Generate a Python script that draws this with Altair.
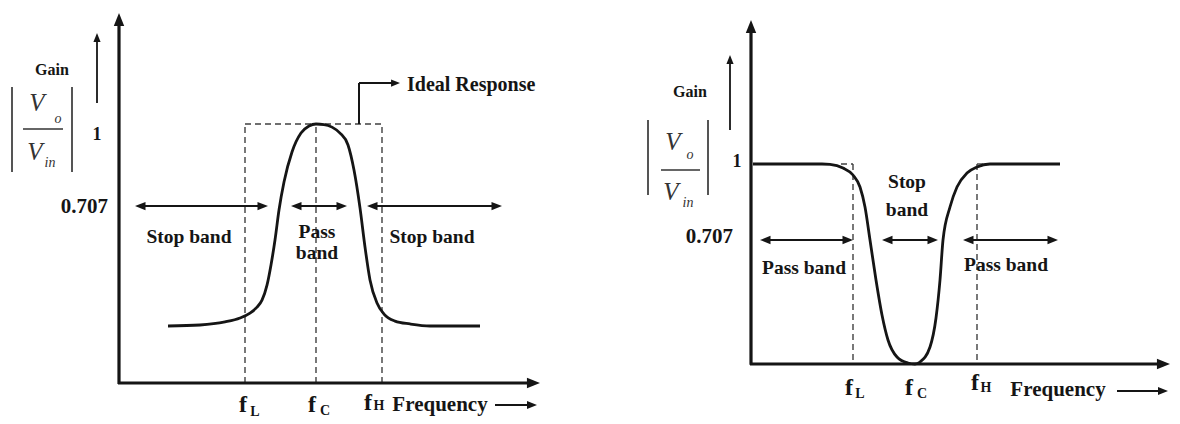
import altair as alt
import pandas as pd

INK = "#151515"
DASH = "#404040"
FONT = "'Liberation Serif', 'Times New Roman', serif"
ARROW_PATH = "M0,0L-2,-0.8L-2,0.8Z"   # tip at the data point, points right (angle 0)

PANEL_W, PANEL_H = 582, 408

# ======================= Band-pass panel (left) =======================
bp_xdom = [-11.1, 47.1]
bp_ydom = [-0.1274, 1.4479]
bp_curve_freq = [4.9, 8.1, 10.6, 12.1, 13.1, 13.8, 14.3, 14.8, 15.2, 15.6, 16.0, 16.5, 17.3, 18.2,
                 19.0, 19.7, 20.5, 21.3, 22.1, 22.9, 23.5, 24.1, 24.6, 25.1, 25.8, 26.5, 27.6,
                 29.1, 31.1, 36.1]
bp_curve_gain = [0.220, 0.224, 0.236, 0.251, 0.270, 0.293, 0.320, 0.378, 0.456, 0.552, 0.668, 0.776,
                 0.892, 0.965, 0.992, 1.0, 0.998, 0.988, 0.965, 0.919, 0.822, 0.676, 0.525, 0.398,
                 0.309, 0.266, 0.239, 0.228, 0.220, 0.220]
bp_fL, bp_fC, bp_fH = 12.6, 19.7, 26.3
bp_axis_tip = (42.1, 1.429)
bp_arrow_level = 0.683
bp_band_arrows = [(1.6, 14.9), (17.2, 22.8), (24.8, 38.3)]
bp_band_text = ["Stop band", "Pass", "band", "Stop band"]
bp_band_text_x = [7.0, 19.8, 19.8, 31.3]
bp_band_text_y = [0.564, 0.583, 0.502, 0.564]
bp_ideal_connector = [(24.0, 1.0, 24.0, 1.158), (24.0, 1.158, 27.6, 1.158)]
bp_ideal_tip = (28.1, 1.158)
bp_ideal_label = ("Ideal Response", 28.8, 1.151)
bp_gain_label = ("Gain", -6.7, 1.208)
bp_one_label = ("1", -2.2, 0.958)
bp_707_label = ("0.707", -1.1, 0.680)
bp_up_arrow = (-2.2, 1.081, 1.351)
bp_frac_bars_x = [-10.7, -4.7]
bp_frac_bars_y = (0.815, 1.143)
bp_frac_line = (-9.6, -5.6, 0.981)
bp_frac_V = [(-8.2, 1.081), (-8.4, 0.892)]
bp_frac_sub = [("o", -6.1, 1.019), ("in", -6.9, 0.849)]
bp_f_main = [(12.4, -0.085), (19.3, -0.085), (24.9, -0.077)]
bp_f_sub = [("L", 13.6, -0.112), ("C", 20.6, -0.108), ("H", 26.0, -0.089)]
bp_freq_label = ("Frequency", 32.1, -0.085)
bp_freq_arrow = (37.6, 41.8, -0.085)

# ======================= Band-stop panel (right) =======================
bs_xdom = [-16.1, 42.1]
bs_ydom = [-0.26, 1.78]
bs_curve_freq = [0.2, 7.1, 7.9, 9.2, 10.2, 10.9, 11.4, 11.9, 12.5, 13.1, 13.7, 14.6, 15.7, 16.4,
                 16.9, 17.9, 18.5, 18.9, 19.2, 19.9, 20.6, 21.6, 22.6, 23.9, 30.9]
bs_curve_gain = [1.0, 1.0, 0.998, 0.98, 0.945, 0.885, 0.785, 0.62, 0.42, 0.245, 0.12, 0.035, 0.005,
                 0.0, 0.01, 0.085, 0.23, 0.42, 0.62, 0.785, 0.885, 0.955, 0.985, 1.0, 1.0]
bs_fL, bs_fC, bs_fH = 10.2, 16.1, 22.6
bs_axis_tip = (41.9, 1.72)
bs_arrow_level = 0.62
bs_band_arrows = [(0.9, 10.2), (13.1, 18.7), (21.2, 30.7)]
bs_band_text = ["Stop", "band", "Pass band", "Pass band"]
bs_band_text_x = [15.6, 15.6, 5.3, 25.5]
bs_band_text_y = [0.91, 0.77, 0.48, 0.495]
bs_gain_label = ("Gain", -6.1, 1.36)
bs_one_label = ("1", -1.4, 1.01)
bs_707_label = ("0.707", -1.8, 0.635)
bs_up_arrow = (-2.1, 1.17, 1.545)
bs_frac_bars_x = [-10.3, -4.3]
bs_frac_bars_y = (0.845, 1.22)
bs_frac_line = (-9.0, -5.1, 0.97)
bs_frac_V = [(-7.8, 1.11), (-8.0, 0.86)]
bs_frac_sub = [("o", -6.1, 1.045), ("in", -6.3, 0.805)]
bs_f_main = [(9.8, -0.12), (15.8, -0.12), (22.4, -0.095)]
bs_f_sub = [("L", 10.9, -0.15), ("C", 17.1, -0.15), ("H", 23.5, -0.12)]
bs_freq_label = ("Frequency", 30.7, -0.13)
bs_freq_arrow = (36.6, 41.7, -0.135)


def build_panel(xdom, ydom, curve_f, curve_g, axis_tip, dashed, arrow_level, band_arrows,
                band_text, band_x, band_y, gain_label, one_label, l707, up_arrow,
                bars_x, bars_y, frac_line, frac_V, frac_sub, f_main, f_sub,
                freq_label, freq_arrow, extra_segments=(), extra_heads=(), left_texts=()):
    xs = alt.Scale(domain=xdom, nice=False, zero=False)
    ys = alt.Scale(domain=ydom, nice=False, zero=False)

    def X(f):
        return alt.X(f, type="quantitative", scale=xs, axis=None)

    def Y(f):
        return alt.Y(f, type="quantitative", scale=ys, axis=None)

    # segments: x, y, x2, y2, width, color
    segs = []
    tx, ty = axis_tip
    segs.append((0, -0.004, 0, ty - 0.03, 3.2, INK))
    segs.append((-0.1, 0, tx - 0.8, 0, 3.2, INK))
    for a, b in band_arrows:
        segs.append((a + 0.3, arrow_level, b - 0.3, arrow_level, 2.0, INK))
    ux, uy0, uy1 = up_arrow
    segs.append((ux, uy0, ux, uy1 - 0.02, 1.8, INK))
    for bx in bars_x:
        segs.append((bx, bars_y[0], bx, bars_y[1], 2.0, "#555555"))
    segs.append((frac_line[0], frac_line[2], frac_line[1], frac_line[2], 1.5, "#333333"))
    segs.append((freq_arrow[0], freq_arrow[2], freq_arrow[1] - 0.5, freq_arrow[2], 2.2, INK))
    for s in extra_segments:
        segs.append((s[0], s[1], s[2], s[3], 2.0, INK))
    seg_df = pd.DataFrame(segs, columns=["x", "y", "x2", "y2", "w", "c"])

    # arrow heads: x, y, angle, size
    heads = [(0, ty, 270, 170), (tx, 0, 0, 170)]
    for a, b in band_arrows:
        heads.append((a, arrow_level, 180, 110))
        heads.append((b, arrow_level, 0, 110))
    heads.append((ux, uy1, 270, 80))
    heads.append((freq_arrow[1], freq_arrow[2], 0, 100))
    for h in extra_heads:
        heads.append(h)
    head_df = pd.DataFrame(heads, columns=["x", "y", "a", "s"])

    curve_df = pd.DataFrame({"f": curve_f, "g": curve_g})
    dash_df = pd.DataFrame(dashed, columns=["x", "y", "x2", "y2"])

    layers = []
    layers.append(alt.Chart(dash_df).mark_rule(color=DASH, strokeWidth=1.4, strokeDash=[6, 4]).encode(
        x=X("x"), y=Y("y"), x2="x2", y2="y2"))
    layers.append(alt.Chart(seg_df).mark_rule(strokeCap="butt").encode(
        x=X("x"), y=Y("y"), x2="x2", y2="y2",
        strokeWidth=alt.StrokeWidth("w:Q", scale=None), color=alt.Color("c:N", scale=None)))
    layers.append(alt.Chart(curve_df).mark_line(color=INK, strokeWidth=2.8, interpolate="monotone").encode(
        x=X("f"), y=Y("g")))
    layers.append(alt.Chart(head_df).mark_point(shape=ARROW_PATH, filled=True, opacity=1, strokeWidth=0,
                                                color=INK).encode(
        x=X("x"), y=Y("y"), angle=alt.Angle("a:Q", scale=None), size=alt.Size("s:Q", scale=None)))

    # bold centred texts
    bold = [(t, x, y, 19.5) for t, x, y in zip(band_text, band_x, band_y)]
    bold.append((gain_label[0], gain_label[1], gain_label[2], 16))
    bold.append((one_label[0], one_label[1], one_label[2], 18))
    bold.append((freq_label[0], freq_label[1], freq_label[2], 21))
    for (x, y) in f_main:
        bold.append(("f", x, y, 24))
    for (t, x, y) in f_sub:
        bold.append((t, x, y, 14))
    bold_df = pd.DataFrame(bold, columns=["t", "x", "y", "s"])
    layers.append(alt.Chart(bold_df).mark_text(font=FONT, fontWeight="bold", color=INK, baseline="middle",
                                               align="center").encode(
        x=X("x"), y=Y("y"), text="t:N", size=alt.Size("s:Q", scale=None)))

    right_df = pd.DataFrame([l707], columns=["t", "x", "y"])
    layers.append(alt.Chart(right_df).mark_text(font=FONT, fontWeight="bold", color=INK, baseline="middle",
                                                align="right", fontSize=21).encode(
        x=X("x"), y=Y("y"), text="t:N"))
    if left_texts:
        left_df = pd.DataFrame(list(left_texts), columns=["t", "x", "y"])
        layers.append(alt.Chart(left_df).mark_text(font=FONT, fontWeight="bold", color=INK, baseline="middle",
                                                   align="left", fontSize=20).encode(
            x=X("x"), y=Y("y"), text="t:N"))

    ital = [("V", x, y, 25) for (x, y) in frac_V] + [(t, x, y, 14) for (t, x, y) in frac_sub]
    ital_df = pd.DataFrame(ital, columns=["t", "x", "y", "s"])
    layers.append(alt.Chart(ital_df).mark_text(font=FONT, fontStyle="italic", color="#333333",
                                               baseline="middle", align="center").encode(
        x=X("x"), y=Y("y"), text="t:N", size=alt.Size("s:Q", scale=None)))

    return alt.layer(*layers).properties(width=PANEL_W, height=PANEL_H)


bp_dashed = [(bp_fL, 0, bp_fL, 1.0), (bp_fC, 0, bp_fC, 1.0), (bp_fH, 0, bp_fH, 1.0),
             (bp_fL, 1.0, bp_fH, 1.0)]
left = build_panel(bp_xdom, bp_ydom, bp_curve_freq, bp_curve_gain, bp_axis_tip, bp_dashed,
                   bp_arrow_level, bp_band_arrows, bp_band_text, bp_band_text_x, bp_band_text_y,
                   bp_gain_label, bp_one_label, bp_707_label, bp_up_arrow, bp_frac_bars_x,
                   bp_frac_bars_y, bp_frac_line, bp_frac_V, bp_frac_sub, bp_f_main, bp_f_sub,
                   bp_freq_label, bp_freq_arrow,
                   extra_segments=bp_ideal_connector,
                   extra_heads=[(bp_ideal_tip[0], bp_ideal_tip[1], 0, 80)],
                   left_texts=[bp_ideal_label])

bs_dashed = [(bs_fL - 1.2, 1.0, bs_fL, 1.0), (bs_fL, 1.0, bs_fL, 0), (bs_fH, 1.0, bs_fH, 0),
             (bs_fH, 1.0, bs_fH + 1.0, 1.0)]
right = build_panel(bs_xdom, bs_ydom, bs_curve_freq, bs_curve_gain, bs_axis_tip, bs_dashed,
                    bs_arrow_level, bs_band_arrows, bs_band_text, bs_band_text_x, bs_band_text_y,
                    bs_gain_label, bs_one_label, bs_707_label, bs_up_arrow, bs_frac_bars_x,
                    bs_frac_bars_y, bs_frac_line, bs_frac_V, bs_frac_sub, bs_f_main, bs_f_sub,
                    bs_freq_label, bs_freq_arrow)

chart = alt.hconcat(left, right, spacing=0, bounds="flush").properties(
    padding=0, background="white"
).configure_view(stroke=None)

chart.save("out.html", embed_options={"renderer": "svg", "actions": False})
